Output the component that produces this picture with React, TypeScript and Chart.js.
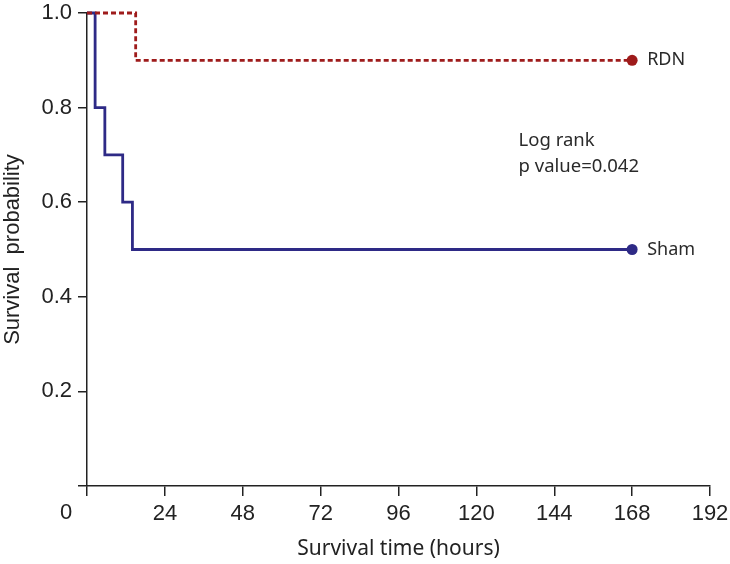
import React, { useEffect, useRef } from "react";
import { Chart, registerables } from "chart.js";

Chart.register(...registerables);

const shamTimes = [0, 2.5, 5.5, 11, 14, 168];
const shamSurvival = [1.0, 0.8, 0.7, 0.6, 0.5, 0.5];
const rdnTimes = [0, 15, 168];
const rdnSurvival = [1.0, 0.9, 0.9];
const xTicks = [0, 24, 48, 72, 96, 120, 144, 168, 192];
const yTicks = [0, 0.2, 0.4, 0.6, 0.8, 1.0];
const seriesNames = ["RDN", "Sham"];
const annotationLines = ["Log rank", "p value=0.042"];
const annotationAt = { x: 133, y: 0.73 };

const RDN_COLOR = "#9e1b1b";
const SHAM_COLOR = "#2e2a86";
const AXIS_FONT = "'Liberation Sans', Arial, sans-serif";
const NOTE_FONT = "'Noto Sans', sans-serif";

const toPoints = (xs: number[], ys: number[]) => xs.map((x, i) => ({ x, y: ys[i] }));
const endRadius = (n: number) => Array.from({ length: n }, (_, i) => (i === n - 1 ? 5.5 : 0));

const textPlugin = {
  id: "kmText",
  afterDraw(chart: any) {
    const { ctx, scales } = chart;
    const xs = scales.x;
    const ys = scales.y;
    ctx.save();
    ctx.fillStyle = "#222";
    // origin "0" label
    ctx.font = `22px ${AXIS_FONT}`;
    ctx.textAlign = "center";
    ctx.textBaseline = "middle";
    ctx.fillText("0", xs.getPixelForValue(0) - 21, ys.getPixelForValue(0) + 27);
    // series labels
    ctx.font = `18px ${NOTE_FONT}`;
    ctx.textAlign = "left";
    ctx.fillStyle = "#2a2a2a";
    const ends = [
      { name: seriesNames[0], x: rdnTimes[rdnTimes.length - 1], y: rdnSurvival[rdnSurvival.length - 1] },
      { name: seriesNames[1], x: shamTimes[shamTimes.length - 1], y: shamSurvival[shamSurvival.length - 1] },
    ];
    ends.forEach((e) => {
      ctx.fillText(e.name, xs.getPixelForValue(e.x) + 15, ys.getPixelForValue(e.y));
    });
    ctx.font = `18.5px ${NOTE_FONT}`;
    const ax = xs.getPixelForValue(annotationAt.x);
    const ay = ys.getPixelForValue(annotationAt.y);
    annotationLines.forEach((t, i) => ctx.fillText(t, ax, ay + i * 26));
    ctx.restore();
  },
};

export default function App() {
  const canvasRef = useRef<HTMLCanvasElement | null>(null);

  useEffect(() => {
    if (!canvasRef.current) return;
    const chart = new Chart(canvasRef.current, {
      type: "line",
      data: {
        datasets: [
          {
            label: seriesNames[0],
            data: toPoints(rdnTimes, rdnSurvival),
            borderColor: RDN_COLOR,
            backgroundColor: RDN_COLOR,
            borderWidth: 2.8,
            borderDash: [5, 3],
            stepped: true,
            pointRadius: endRadius(rdnTimes.length),
            pointBorderWidth: 0,
            fill: false,
            clip: false,
          },
          {
            label: seriesNames[1],
            data: toPoints(shamTimes, shamSurvival),
            borderColor: SHAM_COLOR,
            backgroundColor: SHAM_COLOR,
            borderWidth: 2.8,
            stepped: true,
            pointRadius: endRadius(shamTimes.length),
            pointBorderWidth: 0,
            fill: false,
            clip: false,
          },
        ],
      },
      options: {
        animation: false,
        responsive: false,
        maintainAspectRatio: false,
        layout: { padding: { top: 13, right: 20, left: 0, bottom: 0 } },
        plugins: { legend: { display: false }, tooltip: { enabled: false } },
        scales: {
          x: {
            type: "linear",
            min: 0,
            max: 192,
            afterBuildTicks: (s: any) => {
              s.ticks = xTicks.map((v) => ({ value: v }));
            },
            afterFit: (s: any) => {
              s.height = 78;
              s.paddingLeft = 0;
              s.paddingRight = 0;
            },
            ticks: {
              autoSkip: false,
              maxRotation: 0,
              padding: 5,
              color: "#222",
              font: { family: AXIS_FONT, size: 22 },
              callback: (v: any) => (v === 0 ? "" : String(v)),
            },
            grid: { drawOnChartArea: false, drawTicks: true, tickLength: 10, color: "#222", lineWidth: 1.5 },
            border: { display: true, color: "#222", width: 1.5 },
            title: {
              display: true,
              text: "Survival time (hours)",
              color: "#222",
              font: { family: NOTE_FONT, size: 21 },
              padding: { top: 0, bottom: 2 },
            },
          },
          y: {
            type: "linear",
            min: 0,
            max: 1,
            afterBuildTicks: (s: any) => {
              s.ticks = yTicks.map((v) => ({ value: v }));
            },
            afterFit: (s: any) => {
              s.width = 87;
              s.paddingTop = 0;
              s.paddingBottom = 0;
            },
            ticks: {
              autoSkip: false,
              padding: 6,
              color: "#222",
              font: { family: AXIS_FONT, size: 22 },
              callback: (v: any) => (v === 0 ? "" : Number(v).toFixed(1)),
            },
            grid: { drawOnChartArea: false, drawTicks: true, tickLength: 9, color: "#222", lineWidth: 1.5 },
            border: { display: true, color: "#222", width: 1.5 },
            title: {
              display: true,
              text: "Survival  probability",
              color: "#222",
              font: { family: AXIS_FONT, size: 22 },
              padding: { top: 0, bottom: 0 },
            },
          },
        },
      },
      plugins: [textPlugin],
    });
    return () => chart.destroy();
  }, []);

  return (
    <div style={{ position: "fixed", left: 0, top: 0, width: 730, height: 564, background: "#fff" }}>
      <canvas ref={canvasRef} width={730} height={564} style={{ width: 730, height: 564 }} />
    </div>
  );
}
